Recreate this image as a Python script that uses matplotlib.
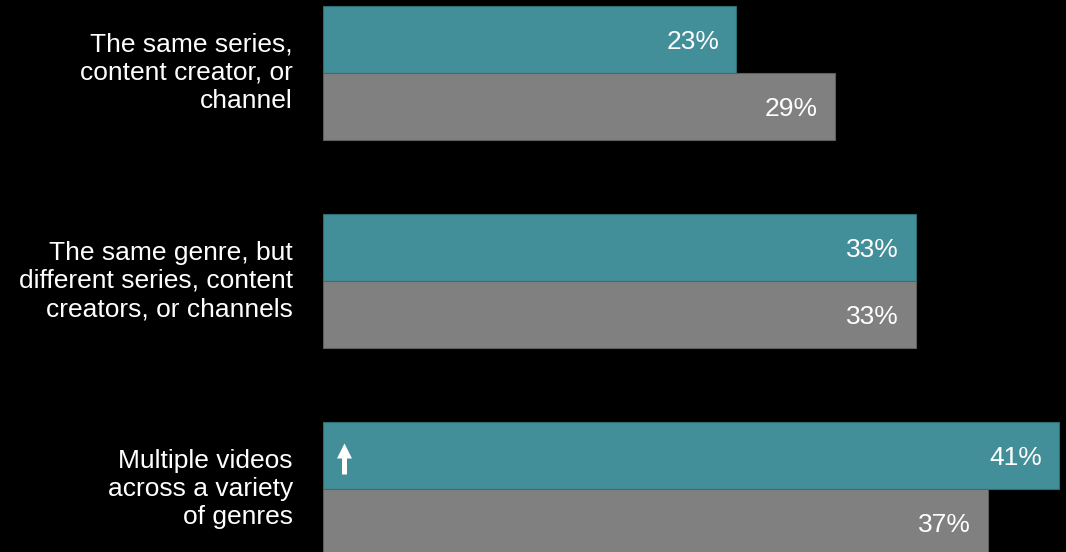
import matplotlib
matplotlib.use("Agg")
import matplotlib.pyplot as plt
from matplotlib.patches import FancyArrow

plt.rcParams['font.family'] = ['Liberation Sans', 'DejaVu Sans']

categories = [
    "The same series,\ncontent creator, or\nchannel",
    "The same genre, but\ndifferent series, content\ncreators, or channels",
    "Multiple videos\nacross a variety\nof genres",
]
teal_values = [23, 33, 41]
gray_values = [28.5, 33, 37]
teal_labels = ["23%", "33%", "41%"]
gray_labels = ["29%", "33%", "37%"]
arrow_group = 2  # group with significance arrow

TEAL = "#428F99"
TEAL_EDGE = "#2E6C74"
GRAY = "#808080"
GRAY_EDGE = "#5E5E5E"

fig = plt.figure(figsize=(10.66, 5.52), dpi=100, facecolor="black")
ax = fig.add_axes([323 / 1066, 0, 1 - 323 / 1066, 1])
ax.set_facecolor("black")

px_per_unit_x = 17.96
group_px = 208.0
bar_h = 67 / group_px

ax.set_xlim(0, (1066 - 323) / px_per_unit_x)
ax.set_ylim((552 - 73) / group_px, -73 / group_px)

pos = list(range(len(categories)))
teal_y = [p - bar_h / 2 for p in pos]
gray_y = [p + bar_h / 2 for p in pos]

ax.barh(teal_y, teal_values, height=bar_h, color=TEAL, edgecolor=TEAL_EDGE, linewidth=0.8)
ax.barh(gray_y, gray_values, height=bar_h, color=GRAY, edgecolor=GRAY_EDGE, linewidth=0.8)

off = 17 / px_per_unit_x
for y, v, lab in zip(teal_y, teal_values, teal_labels):
    ax.text(v - off, y, lab, ha="right", va="center_baseline", color="white", fontsize=19)
for y, v, lab in zip(gray_y, gray_values, gray_labels):
    ax.text(v - off, y, lab, ha="right", va="center_baseline", color="white", fontsize=19)

for p, cat in zip(pos, categories):
    ax.text(-30 / px_per_unit_x, p, cat, ha="right", va="center", color="white",
            fontsize=19, linespacing=1.23, clip_on=False)

# significance arrow
ay = teal_y[arrow_group]
ax_x = 21.5 / px_per_unit_x
bottom = ay + 19 / group_px
length = 31 / group_px
ax.add_patch(FancyArrow(ax_x, bottom, 0, -length, width=5 / px_per_unit_x,
                        head_width=15 / px_per_unit_x, head_length=15 / group_px,
                        length_includes_head=True, color="white", linewidth=0))

ax.axis("off")
fig.savefig("out.png", dpi=100, facecolor="black")
